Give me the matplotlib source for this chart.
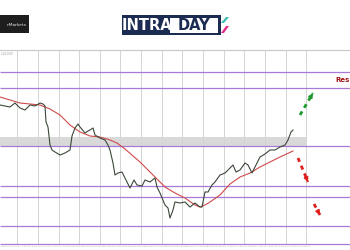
import matplotlib
matplotlib.use("Agg")
import matplotlib.pyplot as plt
from matplotlib.patches import Rectangle, Polygon

# price path (bar index, close)
bars = [0, 5, 10, 15, 20, 25, 30, 35, 40, 43, 45, 46, 48, 50, 52, 55, 60, 65, 70, 72,
        75, 78, 80, 85, 88, 90, 93, 95, 100, 105, 108, 110, 113, 115, 118, 122, 127, 130,
        134, 137, 142, 145, 150, 155, 157, 160, 165, 168, 170, 173, 175, 180, 185, 190,
        195, 200, 202, 205, 208, 212, 215, 220, 225, 230, 233, 236, 240, 245, 248, 252,
        256, 260, 265, 270, 275, 280, 285, 288, 291, 293]
close = [1.1990, 1.1988, 1.1986, 1.1994, 1.1984, 1.1980, 1.1990, 1.1988, 1.1994, 1.1992,
         1.1988, 1.1956, 1.1946, 1.1910, 1.1900, 1.1896, 1.1890, 1.1894, 1.1900, 1.1928,
         1.1944, 1.1952, 1.1946, 1.1934, 1.1938, 1.1940, 1.1944, 1.1930, 1.1924, 1.1920,
         1.1910, 1.1900, 1.1874, 1.1850, 1.1854, 1.1856, 1.1836, 1.1824, 1.1840, 1.1830,
         1.1828, 1.1840, 1.1836, 1.1844, 1.1826, 1.1814, 1.1790, 1.1784, 1.1764, 1.1780,
         1.1796, 1.1794, 1.1796, 1.1786, 1.1794, 1.1786, 1.1786, 1.1816, 1.1816, 1.1830,
         1.1836, 1.1850, 1.1854, 1.1864, 1.1870, 1.1856, 1.1860, 1.1874, 1.1870, 1.1854,
         1.1870, 1.1886, 1.1892, 1.1900, 1.1900, 1.1906, 1.1910, 1.1920, 1.1936, 1.1940]

# moving average
ma_bars = [0, 20, 40, 45, 50, 60, 70, 80, 90, 100, 110, 117, 125, 140, 155, 165, 175,
           185, 195, 200, 205, 210, 220, 230, 240, 250, 260, 270, 280, 293]
ma_vals = [1.2006, 1.1994, 1.1990, 1.1986, 1.1982, 1.1970, 1.1950, 1.1936, 1.1928, 1.1926,
           1.1920, 1.1914, 1.1902, 1.1876, 1.1846, 1.1826, 1.1814, 1.1804, 1.1790, 1.1786,
           1.1790, 1.1796, 1.1810, 1.1832, 1.1846, 1.1854, 1.1866, 1.1876, 1.1886, 1.1898]

levels = [1.2056, 1.2024, 1.1908, 1.1828, 1.1806, 1.1748, 1.1712]
zone = (1.1908, 1.1926)
grid_bars = [17, 38, 59, 79, 100, 120, 141, 162, 182, 203, 224, 244, 265, 286, 306]
top_price = 1.2100

# projected moves (start, end)
bull_arrow = [(300, 1.1970), (313, 1.2014)]
bear_arrows = [[(298, 1.1884), (308, 1.1836)], [(314, 1.1792), (320, 1.1770)]]

date_labels = ["2 Nov 20", "3 Nov 08", "4 Nov 20", "5 Nov 08", "6 Nov 20",
               "9 Nov 08", "10 Nov 20", "11 Nov 08", "12 Nov 20", "13 Nov 08",
               "16 Nov 20", "17 Nov 08", "18 Nov 20", "19 Nov 08", "20 Nov 20",
               "23 Nov 08", "24 Nov 20", "25 Nov 08", "26 Nov 20", "27 Nov 08",
               "30 Nov 20", "1 Dec 08", "2 Dec 20", "3 Dec 08", "4 Dec 20",
               "7 Dec 08", "8 Dec 20", "9 Dec 08", "10 Dec 20", "11 Dec 08"]

fig = plt.figure(figsize=(3.5, 2.5), dpi=100)
ax = fig.add_axes([0, 0, 1, 1])
ax.set_xlim(0, 350)
ax.set_ylim(1.1700, 1.2200)
ax.axis("off")

# frame and grid
ax.plot([0, 350], [top_price, top_price], color="#c8c8c8", lw=0.8)
ax.vlines(grid_bars, levels[-1], top_price, color="#d4d4d4", lw=0.7)
ax.add_patch(Rectangle((0, zone[0]), grid_bars[-1], zone[1] - zone[0],
                       color="#d9d9d9", lw=0, zorder=1))
ax.hlines(levels, 0, 350, color="#a77ad6", lw=0.9, zorder=2)

# price + MA
ax.plot(bars, close, color="#3b4739", lw=0.8, zorder=4)
ax.plot(ma_bars, ma_vals, color="#cf4a4a", lw=0.8, zorder=3)

# projection arrows
def dashed_arrow(pts, color):
    (x0, y0), (x1, y1) = pts
    ax.plot([x0, x1], [y0, y1], color=color, lw=2, dashes=(1.5, 1.5), zorder=5)
    ax.annotate("", xy=(x1, y1), xytext=(x0 + (x1 - x0) * 0.8, y0 + (y1 - y0) * 0.8),
                arrowprops=dict(arrowstyle="-|>", color=color, lw=1.2,
                                mutation_scale=6), zorder=6)

dashed_arrow(bull_arrow, "#1f9a2f")
for a in bear_arrows:
    dashed_arrow(a, "#e0201c")

ax.text(335, 1.2040, "Res", color="#a31515", fontsize=5,
        fontweight="bold", va="center", ha="left")

# small axis texts
ax.text(1, 1.2096, "1.21000", color="#9a9a9a", fontsize=2.2, va="top")
for i, lab in enumerate(date_labels):
    ax.text(1 + i * 10.3, 1.1708, lab, color="#9a9a9a", fontsize=1.4, va="top")

# logos (figure pixel coords)
ov = fig.add_axes([0, 0, 1, 1], facecolor="none")
ov.set_xlim(0, 350)
ov.set_ylim(250, 0)
ov.axis("off")
ov.add_patch(Rectangle((0, 15), 29, 18, color="#1e1e1e", lw=0))
ov.text(27, 24.5, "nMarkets", color="#e6e6e6", fontsize=3.2, ha="right", va="center")

ov.add_patch(Rectangle((122, 15), 99, 20, color="#1b2b52", lw=0))
ov.add_patch(Rectangle((170, 17.5), 48, 15, color="white", lw=0))
ov.text(147, 25.5, "INTRA", color="white", fontsize=10.5, fontweight="bold",
        va="center", ha="center", family="DejaVu Sans")
ov.text(194, 25.5, "DAY", color="#1b2b52", fontsize=10.5, fontweight="bold",
        va="center", ha="center", family="DejaVu Sans")
ov.add_patch(Polygon([(221, 23), (226, 17), (229, 17), (224, 23)], color="#3bbfb5", lw=0))
ov.add_patch(Polygon([(221, 33), (226, 26), (229, 26), (224, 33)], color="#e2308c", lw=0))

fig.savefig("out.png", dpi=100)
